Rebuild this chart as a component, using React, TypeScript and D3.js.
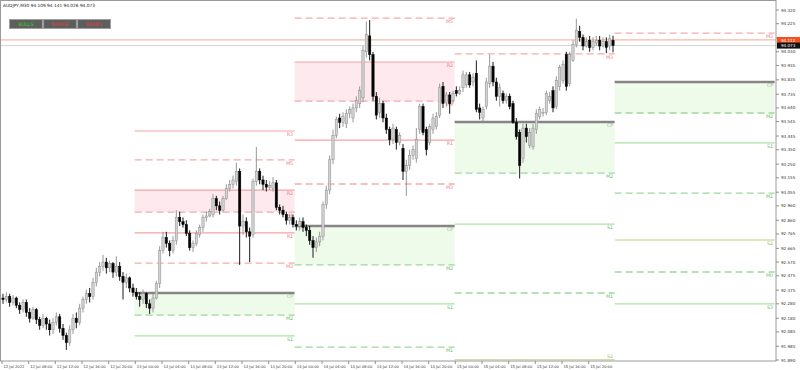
import React from "react";
import * as d3 from "d3";

const symbolTitle = "AUDJPY,M30  94.109 94.141 94.026 94.073";
const buttonLabels = ["BULLS", "RANGE", "BEARS"];
const buttonColors = ["#2fd02f", "#e23a3a", "#e23a3a"];

const timeLabels = ["12 Jul 2022","12 Jul 08:00","12 Jul 12:00","12 Jul 16:00","12 Jul 20:00","13 Jul 00:00","13 Jul 04:00","13 Jul 08:00","13 Jul 12:00","13 Jul 16:00","13 Jul 20:00","14 Jul 00:00","14 Jul 04:00","14 Jul 08:00","14 Jul 12:00","14 Jul 16:00","14 Jul 20:00","15 Jul 00:00","15 Jul 04:00","15 Jul 08:00","15 Jul 12:00","15 Jul 16:00","15 Jul 20:00"];
const barsPerLabel = 8;

const priceTicks = [94.320, 94.225, 94.125, 94.030, 93.935, 93.835, 93.735, 93.640, 93.545, 93.445, 93.350, 93.250, 93.155, 93.055, 92.960, 92.860, 92.765, 92.665, 92.570, 92.475, 92.375, 92.280, 92.180, 92.085, 91.985, 91.890];

const askPrice = 94.112;
const bidPrice = 94.073;

const opens = [
92.32,92.31,92.33,92.29,92.32,92.27,92.24,92.29,92.22,92.18,92.24,92.17,92.13,92.18,92.14,92.10,92.15,92.19,92.11,92.06,
92.01,92.10,92.18,92.15,92.25,92.31,92.35,92.33,92.43,92.50,92.54,92.57,92.53,92.56,92.50,92.54,92.47,92.43,92.46,92.39,
92.36,92.33,92.31,92.35,92.28,92.25,92.32,92.42,92.65,92.74,92.70,92.65,92.72,92.88,92.85,92.83,92.77,92.67,92.70,92.76,
92.81,92.88,92.89,92.90,93.01,92.96,92.93,93.01,93.08,93.11,93.13,93.20,92.82,92.85,92.78,92.76,93.13,93.20,93.14,93.11,
93.09,93.08,93.12,92.95,92.93,92.90,92.86,92.88,92.83,92.82,92.85,92.81,92.79,92.72,92.67,92.71,92.75,92.97,93.07,93.28,
93.45,93.57,93.54,93.53,93.60,93.57,93.64,93.67,93.71,94.03,94.14,94.01,93.72,93.61,93.67,93.57,93.49,93.42,93.49,93.40,
93.36,93.20,93.24,93.31,93.29,93.49,93.65,93.49,93.40,93.49,93.51,93.59,93.79,93.68,93.73,93.69,93.76,93.74,93.78,93.80,
93.87,93.82,93.88,93.64,93.57,93.65,93.81,93.93,93.82,93.72,93.74,93.69,93.72,93.67,93.54,93.47,93.29,93.50,93.38,93.37,
93.49,93.58,93.60,93.61,93.69,93.76,93.65,93.79,93.83,94.01,93.81,93.97,94.08,94.17,94.13,94.07,94.11,94.06,94.09,94.11,
94.07,94.10,94.07,94.109];
const highs = [
92.35,92.36,92.35,92.34,92.33,92.29,92.31,92.31,92.25,92.26,92.25,92.19,92.21,92.19,92.17,92.18,92.22,92.21,92.14,92.08,
92.13,92.21,92.22,92.28,92.33,92.38,92.39,92.46,92.53,92.57,92.62,92.60,92.58,92.57,92.61,92.57,92.50,92.49,92.47,92.42,
92.39,92.36,92.38,92.36,92.31,92.35,92.44,92.68,92.78,92.78,92.72,92.75,92.93,92.92,92.88,92.86,92.79,92.72,92.79,92.83,
92.90,92.92,92.94,93.04,93.03,92.99,93.03,93.11,93.14,93.17,93.26,93.22,92.90,92.88,92.81,93.15,93.37,93.22,93.17,93.14,
93.13,93.16,93.14,92.97,92.96,92.92,92.90,92.90,92.86,92.88,92.88,92.83,92.82,92.75,92.74,92.78,92.99,93.10,93.31,93.49,
93.58,93.60,93.61,93.63,93.65,93.67,93.72,93.79,94.07,94.24,94.25,94.03,93.75,93.71,93.69,93.60,93.51,93.53,93.51,93.47,
93.39,93.28,93.35,93.38,93.50,93.67,93.67,93.51,93.53,93.60,93.61,93.81,93.82,93.75,93.75,93.76,93.79,93.79,93.90,93.89,
93.89,93.88,93.97,93.67,93.65,93.85,94.01,93.96,93.85,93.81,93.76,93.74,93.74,93.69,93.57,93.49,93.53,93.53,93.50,93.53,
93.63,93.65,93.64,93.76,93.75,93.79,93.86,93.94,93.97,94.03,94.03,94.11,94.26,94.21,94.15,94.13,94.14,94.13,94.14,94.14,
94.13,94.13,94.15,94.141];
const lows = [
92.28,92.29,92.26,92.27,92.25,92.21,92.22,92.19,92.15,92.17,92.14,92.10,92.11,92.10,92.06,92.07,92.13,92.08,92.03,91.96,
91.99,92.07,92.11,92.13,92.22,92.28,92.29,92.31,92.40,92.47,92.51,92.49,92.50,92.46,92.47,92.44,92.31,92.39,92.36,92.33,
92.31,92.26,92.28,92.25,92.21,92.22,92.31,92.39,92.63,92.67,92.61,92.63,92.69,92.82,92.81,92.75,92.65,92.64,92.68,92.74,
92.78,92.85,92.88,92.88,92.93,92.90,92.92,93.00,93.06,93.08,93.10,92.55,92.76,92.74,92.57,92.74,93.10,93.11,93.07,93.06,
93.07,93.06,92.93,92.90,92.88,92.83,92.83,92.81,92.79,92.79,92.78,92.75,92.69,92.60,92.64,92.68,92.72,92.94,93.04,93.25,
93.43,93.50,93.51,93.50,93.57,93.54,93.61,93.64,93.68,93.99,93.97,93.69,93.56,93.57,93.54,93.46,93.38,93.39,93.35,93.38,
93.14,93.03,93.21,93.28,93.26,93.46,93.45,93.31,93.38,93.46,93.49,93.57,93.64,93.65,93.60,93.67,93.72,93.73,93.75,93.78,
93.78,93.79,93.61,93.56,93.54,93.63,93.78,93.79,93.69,93.65,93.67,93.67,93.63,93.53,93.42,93.15,93.26,93.40,93.36,93.35,
93.46,93.56,93.58,93.59,93.67,93.61,93.63,93.76,93.81,93.76,93.79,93.96,94.06,94.10,94.04,94.06,94.03,94.04,94.07,94.04,
94.06,94.02,94.04,94.026];
const closes = [
92.31,92.33,92.29,92.32,92.27,92.24,92.29,92.22,92.18,92.24,92.17,92.13,92.18,92.14,92.10,92.15,92.19,92.11,92.06,92.01,
92.10,92.18,92.15,92.25,92.31,92.35,92.33,92.43,92.50,92.54,92.57,92.53,92.56,92.50,92.54,92.47,92.43,92.46,92.39,92.36,
92.33,92.31,92.35,92.28,92.25,92.32,92.42,92.65,92.74,92.70,92.65,92.72,92.88,92.85,92.83,92.77,92.67,92.70,92.77,92.81,
92.88,92.89,92.92,93.01,92.96,92.93,93.01,93.08,93.11,93.14,93.20,92.82,92.85,92.78,92.75,93.13,93.20,93.14,93.11,93.09,
93.10,93.12,92.95,92.93,92.90,92.86,92.88,92.83,92.82,92.85,92.81,92.79,92.72,92.67,92.71,92.75,92.97,93.07,93.28,93.45,
93.56,93.54,93.58,93.60,93.63,93.64,93.69,93.76,94.04,94.15,94.01,93.72,93.59,93.67,93.57,93.49,93.42,93.50,93.40,93.45,
93.20,93.24,93.31,93.35,93.42,93.65,93.47,93.35,93.51,93.57,93.58,93.78,93.67,93.73,93.67,93.74,93.74,93.76,93.87,93.87,
93.80,93.85,93.63,93.61,93.63,93.82,93.93,93.82,93.72,93.78,93.69,93.72,93.65,93.54,93.44,93.24,93.50,93.44,93.47,93.50,
93.60,93.63,93.61,93.74,93.72,93.64,93.83,93.92,93.94,93.79,94.01,94.08,94.18,94.13,94.07,94.10,94.06,94.10,94.11,94.07,
94.10,94.06,94.12,94.073];

// daily pivot sets: first bar index of each day, level names and prices
const pivotDayStartBars = [40, 88, 136, 184];
const barsPerDay = 48;
const pivotNames = [
  ["R3", "M5", "R2", "M4", "R1", "M3", "CP", "M2", "S1"],
  ["M5", "R2", "M4", "R1", "M3", "CP", "M2", "S1", "M1"],
  ["M3", "CP", "M2", "S1", "M1", "S2"],
  ["M3", "CP", "M2", "S1", "M1", "S2", "M0", "S3"],
];
const pivotValues = [
  [93.480, 93.279, 93.070, 92.917, 92.772, 92.563, 92.355, 92.202, 92.057],
  [94.264, 93.959, 93.688, 93.417, 93.112, 92.820, 92.550, 92.279, 91.980],
  [94.015, 93.542, 93.188, 92.834, 92.355, 91.893],
  [94.160, 93.820, 93.605, 93.397, 93.049, 92.723, 92.501, 92.279],
];

const W = 800, H = 370;
const plotRight = 776, plotBottom = 361;

function levelStyle(name: string) {
  if (name === "CP") return { stroke: "#858585", width: 2.6, dash: "", label: "#a4b096" };
  if (name[0] === "R") return { stroke: "#f3a3a3", width: 1.2, dash: "", label: "#ee8080" };
  if (name === "M3" || name === "M4" || name === "M5") return { stroke: "#f6abab", width: 1.3, dash: "7,4", label: "#ee8080" };
  if (name[0] === "M") return { stroke: "#9ed89e", width: 1.3, dash: "7,4", label: "#6cbc6c" };
  if (name === "S2") return { stroke: "#d5dcaa", width: 1.3, dash: "", label: "#98bf70" };
  return { stroke: "#a8e2a0", width: 1.2, dash: "", label: "#6cbc6c" };
}

export default function App() {
  const x = d3.scaleLinear().domain([0, 232]).range([3, 3 + 232 * (10 / 3)]);
  const y = d3.scaleLinear().domain([91.89, 94.32]).range([360, 10]);
  const font = "DejaVu Sans, Verdana, sans-serif";

  const zones: JSX.Element[] = [];
  const levels: JSX.Element[] = [];
  pivotDayStartBars.forEach((sb, d) => {
    const x0 = x(sb) - 1.7;
    const x1 = Math.min(x(sb + barsPerDay) - 1.7, plotRight);
    const names = pivotNames[d];
    const vals = pivotValues[d];
    const get = (n: string) => { const k = names.indexOf(n); return k >= 0 ? vals[k] : null; };
    const r2 = get("R2"), m4 = get("M4"), cp = get("CP"), m2 = get("M2");
    if (r2 !== null && m4 !== null) {
      zones.push(<rect key={"pz" + d} x={x0} y={y(r2)} width={x1 - x0} height={y(m4) - y(r2)} fill="#fde9ee" />);
    }
    if (cp !== null && m2 !== null) {
      zones.push(<rect key={"gz" + d} x={x0} y={y(cp)} width={x1 - x0} height={y(m2) - y(cp)} fill="#eefbea" />);
    }
    names.forEach((n, k) => {
      const st = levelStyle(n);
      const yy = y(vals[k]);
      const ly = yy + 5 > plotBottom - 1 ? yy - 2 : yy + 5;
      levels.push(
        <g key={"lv" + d + n}>
          <line x1={x0} x2={x1} y1={yy} y2={yy} stroke={st.stroke} strokeWidth={st.width} strokeDasharray={st.dash || undefined} />
          <text x={x1 - 1.5} y={ly} fontSize={4.8} fill={st.label} textAnchor="end" fontFamily={font}>{n}</text>
        </g>
      );
    });
  });

  const candles = opens.map((o, i) => {
    const c = closes[i];
    const up = c >= o;
    const cx = x(i);
    const yT = y(Math.max(o, c));
    const yB = y(Math.min(o, c));
    const col = up ? "#8c8c8c" : "#000";
    return (
      <g key={"c" + i}>
        <line x1={cx} x2={cx} y1={y(highs[i])} y2={y(lows[i])} stroke={col} strokeWidth={0.9} />
        <rect x={cx - 1.15} y={yT} width={2.3} height={Math.max(yB - yT, 0.7)} fill={up ? "#d2d2d2" : "#000"} stroke={col} strokeWidth={0.5} />
      </g>
    );
  });

  const askY = y(askPrice), bidY = y(bidPrice);

  return (
    <svg width={W} height={H} style={{ position: "absolute", left: 0, top: 0, background: "#fff" }} fontFamily={font}>
      <rect x={0} y={0} width={W} height={H} fill="#fff" />
      {zones}
      {levels}
      <line x1={0} x2={plotRight} y1={askY} y2={askY} stroke="#f8b9a6" strokeWidth={1.3} />
      <line x1={0} x2={plotRight} y1={bidY} y2={bidY} stroke="#c8c8c8" strokeWidth={0.8} />
      {candles}
      <rect x={0.5} y={0.5} width={plotRight - 0.5} height={plotBottom - 0.5} fill="none" stroke="#9a9a9a" strokeWidth={1} />
      <text x={3} y={7} fontSize={4.3} fill="#222">{symbolTitle}</text>
      {buttonLabels.map((b, i) => (
        <g key={b}>
          <rect x={9.5 + i * 34} y={19.5} width={33} height={9} fill="#5e5e5e" stroke="#a0a0a0" strokeWidth={1} />
          <text x={26 + i * 34} y={26} fontSize={4.8} textAnchor="middle" fill={buttonColors[i]}>{b}</text>
        </g>
      ))}
      {priceTicks.map((p) => {
        const yy = y(p);
        const hidden = Math.abs(yy - askY) < 5 || Math.abs(yy - bidY) < 4;
        return (
          <g key={"pt" + p}>
            <line x1={plotRight} x2={plotRight + 3} y1={yy} y2={yy} stroke="#777" strokeWidth={0.8} />
            {!hidden && <text x={plotRight + 5} y={yy + 1.5} fontSize={4.1} fill="#333">{p.toFixed(3)}</text>}
          </g>
        );
      })}
      <rect x={plotRight + 1} y={askY - 3} width={23} height={6} fill="#f4511e" />
      <text x={plotRight + 5} y={askY + 1.6} fontSize={4.1} fill="#fff">{askPrice.toFixed(3)}</text>
      <rect x={plotRight + 1} y={bidY - 3} width={23} height={6} fill="#111" />
      <text x={plotRight + 5} y={bidY + 1.6} fontSize={4.1} fill="#fff">{bidPrice.toFixed(3)}</text>
      {timeLabels.map((t, k) => {
        const xx = x(k * barsPerLabel) - 1;
        return (
          <g key={"tl" + k}>
            <line x1={xx} x2={xx} y1={plotBottom} y2={plotBottom + 3} stroke="#777" strokeWidth={0.8} />
            <text x={xx + 1.5} y={plotBottom + 6.5} fontSize={3.7} fill="#333">{t}</text>
          </g>
        );
      })}
    </svg>
  );
}
